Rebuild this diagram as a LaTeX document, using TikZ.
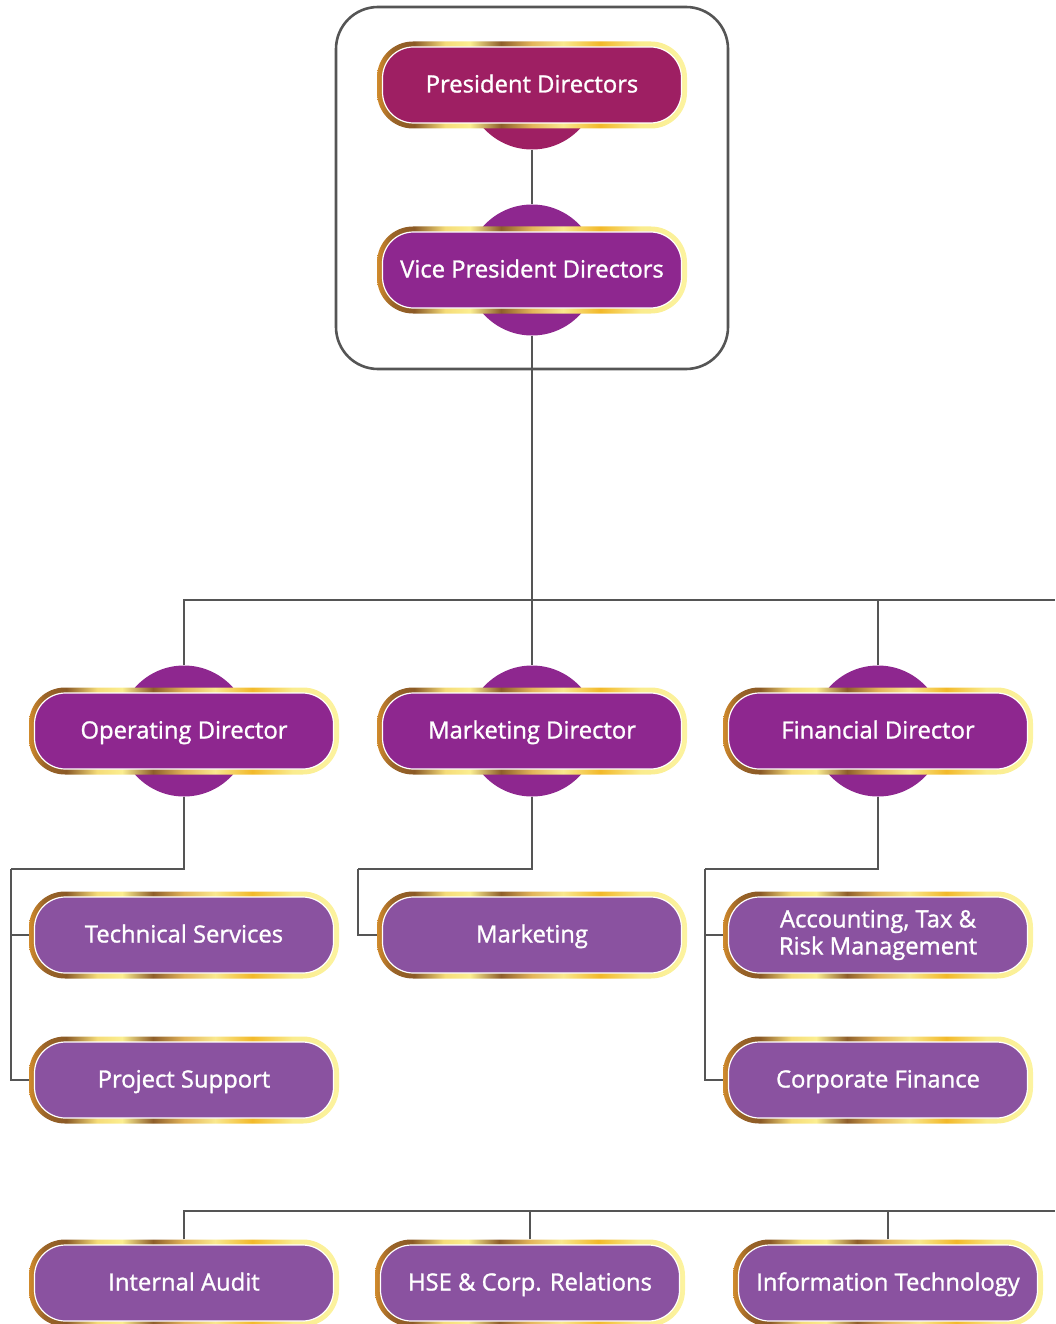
\documentclass[tikz,border=0pt]{standalone}
\usepackage{fontspec}
\setmainfont{Open Sans}[FakeBold=1.2]
\newfontfamily\nodefont{Open Sans}[FakeBold=1.2]
\definecolor{presc}{HTML}{9E1F63}
\definecolor{dirc}{HTML}{8E278F}
\definecolor{leafc}{HTML}{8A52A0}
\definecolor{connc}{HTML}{555555}
\definecolor{gA}{HTML}{D08A2C}
\definecolor{gB}{HTML}{9A6428}
\definecolor{gC}{HTML}{8B5A26}
\definecolor{gD}{HTML}{F5DC78}
\definecolor{gE}{HTML}{FBEE90}
\definecolor{gF}{HTML}{8E5E2A}
\definecolor{gG}{HTML}{E3B55A}
\definecolor{gH}{HTML}{F9E88E}
\definecolor{gI}{HTML}{F2B92A}
\definecolor{gJ}{HTML}{FAEC8E}
\definecolor{gK}{HTML}{FCF3A0}
\pgfdeclarehorizontalshading{goldring}{100bp}{color(0bp)=(gA); color(25bp)=(gA); color(27.5bp)=(gB); color(31bp)=(gC); color(36bp)=(gD); color(40bp)=(gE); color(45bp)=(gF); color(50bp)=(gG); color(55bp)=(gH); color(61bp)=(gI); color(67.5bp)=(gJ); color(75bp)=(gK); color(100bp)=(gK)}
\tikzset{
  goldout/.style={shape=rectangle, rounded corners=36pt, minimum width=310pt, minimum height=87pt, inner sep=0pt, shade, shading=goldring},
  innerbox/.style={shape=rectangle, rounded corners=31pt, minimum width=299pt, minimum height=76pt, inner sep=0pt, draw=white, line width=1.2pt, text=white, align=center, font=\nodefont\fontsize{23.8}{27}\selectfont},
  oneline/.style={text height=15pt, text depth=0pt},
  bulge/.style={shape=circle, minimum size=131pt, inner sep=0pt},
  conn/.style={draw=connc, line width=2.6pt},
}
\begin{document}
\begin{tikzpicture}[x=1pt, y=-1pt]
\useasboundingbox (0,0) rectangle (1055,1324);
% frame
\node[draw=connc, line width=2.6pt, rounded corners=42pt, minimum width=392pt, minimum height=362pt, inner sep=0pt] (frame) at (532,188) {};
% connector points
\coordinate (r1) at (1055,600);
\coordinate (opl) at (11,869);
\coordinate (mkl) at (358,869);
\coordinate (fdl) at (705,869);
\coordinate (r2) at (1055,1211);
% bulges
\begin{scope}
\clip (400,84) rectangle (660,200);
\node[bulge, fill=presc] (pres-c) at (532,84) {};
\end{scope}
\node[bulge, fill=dirc] (vp-c) at (532,270) {};
\node[bulge, fill=dirc] (op-c) at (184,731) {};
\node[bulge, fill=dirc] (md-c) at (532,731) {};
\node[bulge, fill=dirc] (fd-c) at (878,731) {};
% top nodes
\node[goldout] (pres-o) at (532,85) {};
\node[innerbox, oneline, fill=presc] (pres) at (532,85) {President Directors};
\node[goldout] (vp-o) at (532,270) {};
\node[innerbox, oneline, fill=dirc] (vp) at (532,270) {Vice President Directors};
% directors
\node[goldout] (op-o) at (184,731) {};
\node[innerbox, oneline, fill=dirc] (op) at (184,731) {Operating Director};
\node[goldout] (md-o) at (532,731) {};
\node[innerbox, oneline, fill=dirc] (md) at (532,731) {Marketing Director};
\node[goldout] (fd-o) at (878,731) {};
\node[innerbox, oneline, fill=dirc] (fd) at (878,731) {Financial Director};
% leaves
\node[goldout] (ts-o) at (184,935) {};
\node[innerbox, oneline, fill=leafc] (ts) at (184,935) {Technical Services};
\node[goldout] (ps-o) at (184,1080) {};
\node[innerbox, oneline, fill=leafc] (ps) at (184,1080) {Project Support};
\node[goldout] (mk-o) at (532,935) {};
\node[innerbox, oneline, fill=leafc] (mk) at (532,935) {Marketing};
\node[goldout] (ac-o) at (878,935) {};
\node[innerbox, fill=leafc] (ac) at (878,935) {Accounting, Tax \&\\Risk Management};
\node[goldout] (cf-o) at (878,1080) {};
\node[innerbox, oneline, fill=leafc] (cf) at (878,1080) {Corporate Finance};
% bottom row
\node[goldout] (ia-o) at (184,1283) {};
\node[innerbox, oneline, fill=leafc] (ia) at (184,1283) {Internal Audit};
\node[goldout] (hse-o) at (530,1283) {};
\node[innerbox, oneline, fill=leafc] (hse) at (530,1283) {HSE \& Corp. Relations};
\node[goldout] (it-o) at (888,1283) {};
\node[innerbox, oneline, fill=leafc] (it) at (888,1283) {Information Technology};
% lines
\draw[conn] (pres-c.south) -- (vp-c.north);
\draw[conn] (vp-c.south) -- (md-c.north);
\draw[conn] (op-c.north) |- (r1);
\draw[conn] (fd-c.north) -- (fd-c.north |- r1);
\draw[conn] (op-c.south) |- (opl);
\draw[conn] (opl) |- (ts-o.west);
\draw[conn] (opl) |- (ps-o.west);
\draw[conn] (md-c.south) |- (mkl);
\draw[conn] (mkl) |- (mk-o.west);
\draw[conn] (fd-c.south) |- (fdl);
\draw[conn] (fdl) |- (ac-o.west);
\draw[conn] (fdl) |- (cf-o.west);
\draw[conn] (ia-o.north) |- (r2);
\draw[conn] (hse-o.north) -- (hse-o.north |- r2);
\draw[conn] (it-o.north) -- (it-o.north |- r2);
\end{tikzpicture}
\end{document}
